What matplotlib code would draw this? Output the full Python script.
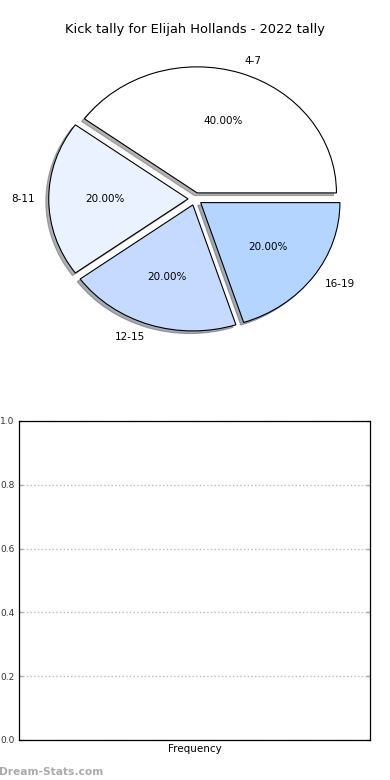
import matplotlib
matplotlib.use("Agg")
import matplotlib.pyplot as plt

title = "Kick tally for Elijah Hollands - 2022 tally"
labels = ["4-7", "8-11", "12-15", "16-19"]
values = [40, 20, 20, 20]
colors = ["#ffffff", "#eaf1ff", "#c6d9ff", "#b3d5ff"]
yticks = [0.0, 0.2, 0.4, 0.6, 0.8, 1.0]
xlabel = "Frequency"
watermark = "Dream-Stats.com"

fig = plt.figure(figsize=(3.9, 7.8), dpi=100)

ax1 = fig.add_axes([0.0535, 0.543, 0.893, 0.404])
wedges, texts, autotexts = ax1.pie(
    values, labels=labels, colors=colors, explode=[0.05] * 4,
    autopct="%.2f%%", startangle=0,
    shadow=dict(ox=-0.015, oy=-0.015, shade=0.6),
    wedgeprops=dict(edgecolor="black", linewidth=0.8),
    textprops=dict(fontsize=7.5),
)
ax1.set_aspect("auto")
ax1.set_title(title, fontsize=9.4)

ax2 = fig.add_axes([0.0487, 0.0513, 0.9, 0.409])
ax2.set_ylim(0, 1)
ax2.set_yticks(yticks)
ax2.set_yticklabels([f"{t:.1f}" for t in yticks], fontsize=6.5, color="#333333")
ax2.set_xticks([])
ax2.tick_params(axis="y", right=True, direction="in", length=3,
                color="#aaaaaa", width=1, pad=3)
ax2.yaxis.grid(True, linestyle=":", color="#bbbbbb", linewidth=1)
ax2.set_axisbelow(True)
ax2.set_xlabel(xlabel, fontsize=7.5, labelpad=3)
for s in ax2.spines.values():
    s.set_linewidth(0.9)

fig.text(-0.002, 0.004, watermark, fontsize=7.7, color="#aaaaaa",
         fontweight="bold", ha="left", va="bottom")

fig.savefig("out.png", dpi=100)
